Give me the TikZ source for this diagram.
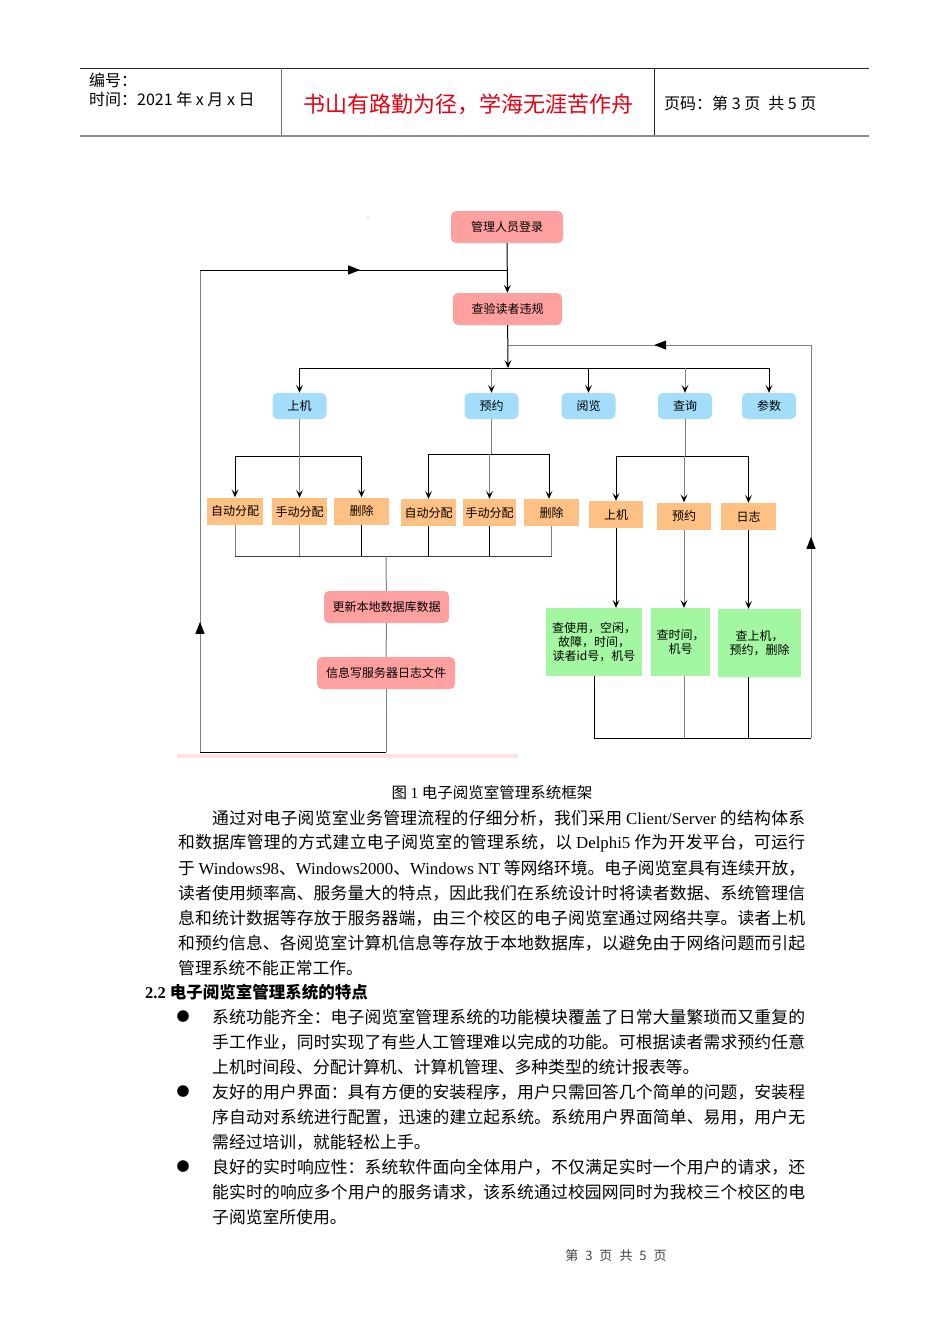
\documentclass[tikz,border=0pt]{standalone}
\usepackage{fontspec}
\setmainfont{Liberation Serif}
\newfontfamily\cjk{Noto Sans CJK SC}
\usetikzlibrary{arrows.meta,decorations.markings}
\XeTeXlinebreaklocale "zh"
\XeTeXlinebreakskip=0pt plus 3pt minus 0.6pt
\definecolor{boxpink}{HTML}{FFA0A0}
\definecolor{boxblue}{HTML}{A3DDFB}
\definecolor{boxorange}{HTML}{FFC183}
\definecolor{boxgreen}{HTML}{A3F7A0}
\definecolor{barpink}{HTML}{FCE3E3}
\definecolor{titlered}{HTML}{E60012}
\def\en#1{{\rmfamily #1}}
\def\fullline#1#2{\parbox{#1}{\parfillskip=0pt\relax #2}}

\tikzset{
  ln/.style={line width=1pt, black},
  lg/.style={line width=1pt, black!50},
  arr/.style={-{Stealth[length=8pt,width=7pt,inset=3.5pt,color=black]}},
  boxtext/.style={inner sep=0pt, align=center, font=\cjk\fontsize{12}{14}\selectfont},
  pinkbox/.style={boxtext, fill=boxpink, rounded corners=5pt},
  bluebox/.style={boxtext, fill=boxblue, rounded corners=5pt, minimum width=54pt, minimum height=26pt},
  orangebox/.style={boxtext, fill=boxorange, minimum width=55pt, minimum height=27pt},
  greenbox/.style={boxtext, fill=boxgreen, minimum height=68pt},
  head/.style={anchor=west, inner sep=0pt, font=\cjk\fontsize{16}{17}\selectfont},
  body/.style={anchor=west, inner sep=0pt, font=\cjk\fontsize{16.8}{20}\selectfont},
}

\begin{document}
\begin{tikzpicture}[x=1pt,y=-1pt]
	%%%%% START %%%%%
	\useasboundingbox (0,0) rectangle (950,1344);
	\fill[white] (0,0) rectangle (950,1344);
	
	\draw[line width=0.9pt, black!85] (80,68) -- (869,68);
	\draw[line width=2pt, black!45] (80,136) -- (869,136);
	\draw[line width=1pt, black!55] (281,68) -- (281,135);
	\draw[line width=1pt, black!85] (654,68) -- (654,135);
	\node[head] (hNo) at (89,80) {编号：};
	\node[head] (hDate) at (89,99) {时间：2021 年 x 月 x 日};
	\node[font=\cjk\fontsize{22}{24}\selectfont, text=titlered] (hTitle) at (468,104) {书山有路勤为径，学海无涯苦作舟};
	\node[head] (hPage) at (664,103) {页码：第 3 页\enspace 共 5 页};
	
	\fill[black!40] (368,217) circle (0.7);
	
	\node[pinkbox, minimum width=112pt, minimum height=32pt] (login) at (507,227) {管理人员登录};
	\node[pinkbox, minimum width=109pt, minimum height=32pt] (check) at (507.5,309) {查验读者违规};
	
	\node[bluebox] (mUse) at (299.5,406) {上机};
	\node[bluebox] (mBook) at (491.5,406) {预约};
	\node[bluebox] (mRead) at (588.5,406) {阅览};
	\node[bluebox] (mQuery) at (685,406) {查询};
	\node[bluebox] (mParam) at (769,406) {参数};
	
	\node[orangebox, minimum width=56pt] (uAuto) at (235,511) {自动分配};
	\node[orangebox] (uHand) at (299.5,511.5) {手动分配};
	\node[orangebox] (uDel) at (361.5,511) {删除};
	\node[orangebox] (bAuto) at (428.5,512.5) {自动分配};
	\node[orangebox, minimum width=53pt] (bHand) at (489.5,512.5) {手动分配};
	\node[orangebox] (bDel) at (551.5,512.5) {删除};
	\node[orangebox, minimum width=54pt] (qUse) at (616,514.5) {上机};
	\node[orangebox, minimum width=54pt] (qBook) at (684,516) {预约};
	\node[orangebox] (qLog) at (748.5,516.5) {日志};
	
	\node[greenbox, minimum width=96pt] (gUse) at (594,642) {查使用，空闲，\\故障，时间，\\读者id号，机号};
	\node[greenbox, minimum width=59pt] (gTime) at (680.5,642) {查时间，\\机号};
	\node[greenbox, minimum width=83pt] (gLog) at (759.5,643) {查上机，\\预约，删除};
	
	\node[pinkbox, minimum width=125pt, minimum height=32pt] (update) at (386.5,607) {更新本地数据库数据};
	\node[pinkbox, minimum width=138pt, minimum height=32pt] (logfile) at (386,673) {信息写服务器日志文件};
	
	\coordinate (j1) at (508,270);
	\coordinate (lpTL) at (200,270);
	\coordinate (lpBL) at (200,752);
	\coordinate (lpBR) at (386,752);
	\coordinate (busC) at (508,368);
	\coordinate (rtA) at (508,345);
	\coordinate (rtTR) at (811,345);
	\coordinate (rtBR) at (811,738);
	\coordinate (rtBL) at (594,738);
	\coordinate (lowBus) at (386,556);
	
	\draw[ln,arr] (login) -- (check);
	\draw[ln,arr] (check) -- (busC);
	\draw[ln] (mUse |- busC) -- (mParam |- busC);
	\draw[ln,arr] (mUse |- busC) -- (mUse);
	\draw[lg,arr] (mBook |- busC) -- (mBook);
	\draw[ln,arr] (mRead |- busC) -- (mRead);
	\draw[lg,arr] (mQuery |- busC) -- (mQuery);
	\draw[ln,arr] (mParam |- busC) -- (mParam);
	
	\draw[lg] (mUse) -- (mUse |- 0,456);
	\draw[ln] (uAuto |- 0,456) -- (uDel |- 0,456);
	\draw[ln,arr] (uAuto |- 0,456) -- (uAuto);
	\draw[lg,arr] (uHand |- 0,456) -- (uHand);
	\draw[ln,arr] (uDel |- 0,456) -- (uDel);
	
	\draw[lg] (mBook) -- (mBook |- 0,454);
	\draw[ln] (bAuto |- 0,454) -- (549,454);
	\draw[ln,arr] (bAuto |- 0,454) -- (bAuto);
	\draw[lg,arr] (bHand |- 0,454) -- (bHand);
	\draw[ln,arr] (549,454) -- (bDel.north -| 549,0);
	
	\draw[lg] (mQuery) -- (mQuery |- 0,456);
	\draw[ln] (qUse |- 0,456) -- (qLog |- 0,456);
	\draw[ln,arr] (qUse |- 0,456) -- (qUse);
	\draw[lg,arr] (qBook |- 0,456) -- (qBook);
	\draw[ln,arr] (qLog |- 0,456) -- (qLog);
	
	\draw[lg] (uAuto) -- (uAuto |- lowBus);
	\draw[lg] (uHand) -- (uHand |- lowBus);
	\draw[ln] (uDel) -- (uDel |- lowBus);
	\draw[ln] (bAuto) -- (bAuto |- lowBus);
	\draw[ln] (bHand) -- (bHand |- lowBus);
	\draw[lg] (bDel) -- (bDel |- lowBus);
	\draw[line width=1pt, black!75] (uAuto |- lowBus) -- (bDel |- lowBus);
	\draw[lg] (lowBus) -- (update);
	\draw[lg] (update) -- (logfile);
	\draw[lg] (logfile) -- (lpBR);
	\draw[ln] (lpBR) -- (lpBL);
	\draw[lg, postaction={decorate, decoration={markings, mark=at position 0.27 with {\arrow{Triangle[length=12pt,width=9pt,color=black]}}}}] (lpBL) -- (lpTL);
	\draw[ln, postaction={decorate, decoration={markings, mark=at position 0.52 with {\arrow{Triangle[length=12pt,width=9pt]}}}}] (lpTL) -- (j1);
	
	\draw[ln,arr] (qUse) -- (qUse |- gUse.north);
	\draw[lg,arr] (qBook) -- (qBook |- gTime.north);
	\draw[ln,arr] (qLog) -- (qLog |- gLog.north);
	\draw[ln] (gUse) -- (rtBL);
	\draw[lg] (qBook |- gTime.south) -- (qBook |- rtBL);
	\draw[ln] (qLog |- gLog.south) -- (qLog |- rtBL);
	\draw[ln] (rtBL) -- (rtBR);
	\draw[lg, postaction={decorate, decoration={markings, mark=at position 0.289 with {\arrow{Triangle[length=12pt,width=9pt,color=black]}}, mark=at position 0.79 with {\arrow{Triangle[length=12pt,width=9pt,color=black]}}}}] (rtBR) -- (rtTR) -- (rtA);
	
	\fill[barpink] (177,754) rectangle (518,758);
	
	\node[font=\cjk\fontsize{15.5}{17}\selectfont] (cap) at (492,793) {图 \en{1} 电子阅览室管理系统框架};
	
	\node[body] (p1) at (212,818) {\fullline{593pt}{通过对电子阅览室业务管理流程的仔细分析，我们采用 \en{Client/Server} 的结构体系}};
	\node[body] (p2) at (178,843) {\fullline{627pt}{和数据库管理的方式建立电子阅览室的管理系统，以 \en{Delphi5} 作为开发平台，可运行}};
	\node[body] (p3) at (178,868) {\fullline{627pt}{于 \en{Windows98}、\en{Windows2000}、\en{Windows NT} 等网络环境。电子阅览室具有连续开放，}};
	\node[body] (p4) at (178,893) {\fullline{627pt}{读者使用频率高、服务量大的特点，因此我们在系统设计时将读者数据、系统管理信}};
	\node[body] (p5) at (178,918) {\fullline{627pt}{息和统计数据等存放于服务器端，由三个校区的电子阅览室通过网络共享。读者上机}};
	\node[body] (p6) at (178,943) {\fullline{627pt}{和预约信息、各阅览室计算机信息等存放于本地数据库，以避免由于网络问题而引起}};
	\node[body] (p7) at (178,968) {管理系统不能正常工作。};
	
	\node[anchor=west, inner sep=0pt, font=\fontsize{16.5}{18}\selectfont\bfseries] (sec) at (145,992) {2.2 {\cjk 电子阅览室管理系统的特点}};
	
	\node[font=\cjk\fontsize{13}{15}\selectfont] (dot1) at (183,1017) {●};
	\node[body] (a1) at (212,1017) {\fullline{593pt}{系统功能齐全：电子阅览室管理系统的功能模块覆盖了日常大量繁琐而又重复的}};
	\node[body] (a2) at (212,1042) {\fullline{593pt}{手工作业，同时实现了有些人工管理难以完成的功能。可根据读者需求预约任意}};
	\node[body] (a3) at (212,1067) {上机时间段、分配计算机、计算机管理、多种类型的统计报表等。};
	
	\node[font=\cjk\fontsize{13}{15}\selectfont] (dot2) at (183,1092) {●};
	\node[body] (b1) at (212,1092) {\fullline{593pt}{友好的用户界面：具有方便的安装程序，用户只需回答几个简单的问题，安装程}};
	\node[body] (b2) at (212,1117) {\fullline{593pt}{序自动对系统进行配置，迅速的建立起系统。系统用户界面简单、易用，用户无}};
	\node[body] (b3) at (212,1142) {需经过培训，就能轻松上手。};
	
	\node[font=\cjk\fontsize{13}{15}\selectfont] (dot3) at (183,1167) {●};
	\node[body] (c1) at (212,1167) {\fullline{593pt}{良好的实时响应性：系统软件面向全体用户，不仅满足实时一个用户的请求，还}};
	\node[body] (c2) at (212,1192) {\fullline{593pt}{能实时的响应多个用户的服务请求，该系统通过校园网同时为我校三个校区的电}};
	\node[body] (c3) at (212,1217) {子阅览室所使用。};
	
	\node[font=\cjk\fontsize{13}{15}\selectfont, text=black!75] (foot) at (616,1256) {第\hspace{7pt}3\hspace{7pt}页\hspace{7pt}共\hspace{7pt}5\hspace{7pt}页};
	%%%%% END %%%%%
\end{tikzpicture}
\end{document}
